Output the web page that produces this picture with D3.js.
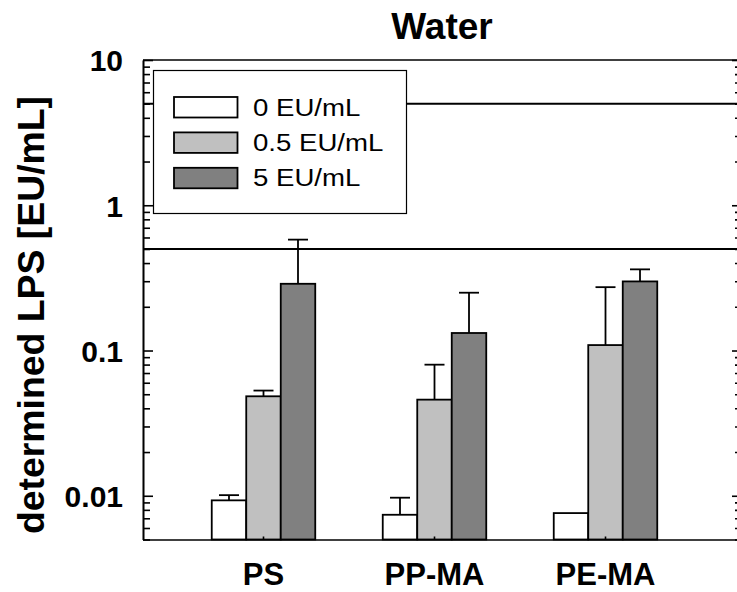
<!DOCTYPE html>
<html>
<head>
<meta charset="utf-8">
<script src="https://cdnjs.cloudflare.com/ajax/libs/d3/7.8.5/d3.min.js"></script>
<style>
    body { margin: 0; background: #fff; }
    svg { display: block; font-family: "Liberation Sans", Arial, sans-serif; }
    .axis path, .axis line { stroke: #000; stroke-width: 1.6; }
    .axis text { font-size: 30px; font-weight: bold; fill: #000; }
    .x.axis text { font-size: 31px; }
</style>
</head>
<body>
<div id="chart"></div>
<script>
var categories = ["PS", "PP-MA", "PE-MA"];
var series = ["0 EU/mL", "0.5 EU/mL", "5 EU/mL"];
var colors = ["#ffffff", "#c0c0c0", "#808080"];

// mean values per category, one array per series
var values_0 = [0.0093, 0.0074, 0.0076];
var values_05 = [0.0484, 0.0459, 0.109];
var values_5 = [0.288, 0.132, 0.299];

// upper error (SD) per category
var err_0 = [0.0008, 0.0023, 0];
var err_05 = [0.0046, 0.034, 0.164];
var err_5 = [0.292, 0.118, 0.063];

var ref_lines = [5, 0.5];
var major_ticks = [10, 1, 0.1, 0.01];
var tick_labels = ["10", "1", "0.1", "0.01"];

var width = 737, height = 592,
    plot = {left: 143, right: 742, top: 60, bottom: 539.5};

var svg = d3.select("#chart").append("svg")
    .attr("width", width)
    .attr("height", height);

var y = d3.scaleLog()
    .domain([0.005, 10])
    .range([plot.bottom, plot.top]);

var x = d3.scaleBand()
    .domain(categories)
    .range([144.25, 724.75])
    .paddingInner(0.3947)
    .paddingOuter(0.3947);

var xInner = d3.scaleBand()
    .domain(series)
    .range([0, x.bandwidth()]);

var minor_ticks = [];
[0.001, 0.01, 0.1, 1].forEach(function(dec) {
    d3.range(2, 10).forEach(function(m) {
        var v = +(dec * m).toPrecision(3);
        if (v >= 0.005 && v < 10) minor_ticks.push(v);
    });
});

var rows = categories.map(function(c, i) {
    return {
        cat: c,
        bars: [
            {s: series[0], v: values_0[i], e: err_0[i], c: colors[0]},
            {s: series[1], v: values_05[i], e: err_05[i], c: colors[1]},
            {s: series[2], v: values_5[i], e: err_5[i], c: colors[2]}
        ]
    };
});

// reference lines
svg.selectAll("line.ref")
    .data(ref_lines)
    .enter().append("line")
    .attr("class", "ref")
    .attr("x1", plot.left).attr("x2", plot.right)
    .attr("y1", function(d) { return y(d); })
    .attr("y2", function(d) { return y(d); })
    .attr("stroke", "#000")
    .attr("stroke-width", 1.8);

// frame top
svg.append("line")
    .attr("x1", plot.left).attr("x2", plot.right)
    .attr("y1", plot.top).attr("y2", plot.top)
    .attr("stroke", "#000").attr("stroke-width", 1.6);

var groups = svg.selectAll("g.grp")
    .data(rows)
    .enter().append("g")
    .attr("class", "grp")
    .attr("transform", function(d) { return "translate(" + x(d.cat) + ",0)"; });

// error bars (upper only)
var eb = groups.selectAll("g.err")
    .data(function(d) { return d.bars.filter(function(b) { return b.e > 0; }); })
    .enter().append("g")
    .attr("class", "err")
    .attr("stroke", "#000")
    .attr("stroke-width", 1.8);

eb.append("line")
    .attr("x1", function(d) { return xInner(d.s) + xInner.bandwidth() / 2; })
    .attr("x2", function(d) { return xInner(d.s) + xInner.bandwidth() / 2; })
    .attr("y1", function(d) { return y(d.v); })
    .attr("y2", function(d) { return y(d.v + d.e); });

eb.append("line")
    .attr("x1", function(d) { return xInner(d.s) + xInner.bandwidth() / 2 - 10; })
    .attr("x2", function(d) { return xInner(d.s) + xInner.bandwidth() / 2 + 10; })
    .attr("y1", function(d) { return y(d.v + d.e); })
    .attr("y2", function(d) { return y(d.v + d.e); });

groups.selectAll("rect")
    .data(function(d) { return d.bars; })
    .enter().append("rect")
    .attr("x", function(d) { return xInner(d.s); })
    .attr("width", xInner.bandwidth())
    .attr("y", function(d) { return y(d.v); })
    .attr("height", function(d) { return plot.bottom - y(d.v); })
    .attr("fill", function(d) { return d.c; })
    .attr("stroke", "#000")
    .attr("stroke-width", 1.8);

// axes
var yAxis = d3.axisLeft(y)
    .tickValues(major_ticks)
    .tickFormat(function(d, i) { return tick_labels[i]; })
    .tickSize(-10)
    .tickSizeOuter(0)
    .tickPadding(20);

svg.append("g")
    .attr("class", "y axis")
    .attr("transform", "translate(" + plot.left + ",0)")
    .call(yAxis)
    .selectAll("text").attr("dy", "0.36em");

svg.append("g")
    .attr("class", "y minor axis")
    .attr("transform", "translate(" + plot.left + ",0)")
    .call(d3.axisLeft(y).tickValues(minor_ticks).tickFormat("").tickSize(-7).tickSizeOuter(0));

svg.append("g")
    .attr("class", "y2 axis")
    .attr("transform", "translate(" + plot.right + ",0)")
    .call(d3.axisRight(y).tickValues(major_ticks).tickFormat("").tickSize(-10).tickSizeOuter(0));

svg.append("g")
    .attr("class", "y2 minor axis")
    .attr("transform", "translate(" + plot.right + ",0)")
    .call(d3.axisRight(y).tickValues(minor_ticks).tickFormat("").tickSize(-7).tickSizeOuter(0));

var xAxis = d3.axisBottom(x)
    .tickSize(-3)
    .tickSizeOuter(0)
    .tickPadding(23.5);

svg.append("g")
    .attr("class", "x axis")
    .attr("transform", "translate(0," + plot.bottom + ")")
    .call(xAxis);

svg.select("g.x.axis path.domain")
    .attr("d", "M" + plot.left + ",0.5H" + plot.right);

// legend
var legend = svg.append("g").attr("class", "legend");

legend.append("rect")
    .attr("x", 153.5).attr("y", 70.5)
    .attr("width", 253).attr("height", 143)
    .attr("fill", "#fff")
    .attr("stroke", "#000")
    .attr("stroke-width", 1.2);

var items = legend.selectAll("g.item")
    .data(series)
    .enter().append("g")
    .attr("class", "item")
    .attr("transform", function(d, i) { return "translate(0," + (107 + i * 35.4) + ")"; });

items.append("rect")
    .attr("x", 174).attr("y", -10)
    .attr("width", 63.5).attr("height", 20.5)
    .attr("fill", function(d, i) { return colors[i]; })
    .attr("stroke", "#000")
    .attr("stroke-width", 1.8);

items.append("text")
    .attr("transform", "translate(253,0) scale(1.15,1)")
    .attr("dy", "0.36em")
    .style("font-size", "24px")
    .text(function(d) { return d; });

// titles
svg.append("text")
    .attr("x", 442).attr("y", 39)
    .attr("text-anchor", "middle")
    .style("font-size", "37px")
    .style("font-weight", "bold")
    .text("Water");

svg.append("text")
    .attr("transform", "translate(44,315) rotate(-90)")
    .attr("text-anchor", "middle")
    .attr("textLength", 438)
    .attr("lengthAdjust", "spacingAndGlyphs")
    .style("font-size", "36px")
    .style("font-weight", "bold")
    .text("determined LPS [EU/mL]");
</script>
</body>
</html>
